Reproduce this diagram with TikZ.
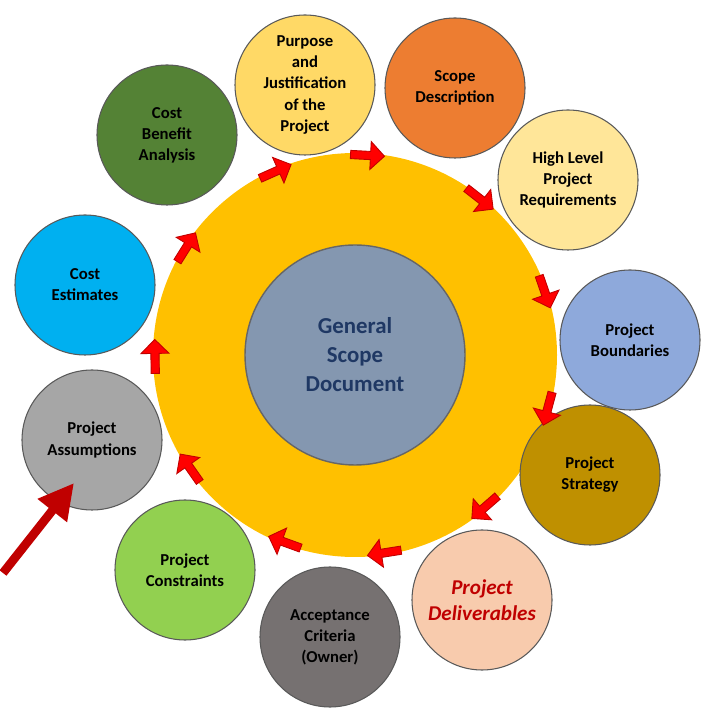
\documentclass[tikz,border=0pt]{standalone}
\usepackage{fontspec}
\setmainfont{Carlito}
\usepackage{tikz}
\usetikzlibrary{positioning,shapes.arrows,arrows.meta}

\definecolor{ringyellow}{HTML}{FFC000}
\definecolor{coreblue}{HTML}{8497B0}
\definecolor{navytext}{HTML}{1F3864}
\definecolor{darkred}{HTML}{C00000}

\tikzset{
  topic/.style={circle, draw=black!65, line width=0.6pt, minimum size=140*0.02cm,
    inner sep=0pt, align=center, font=\fontsize{9.5}{12}\selectfont\bfseries},
  flow/.style={single arrow, draw=darkred, fill=red, line width=0.5pt,
    minimum height=34*0.02cm, minimum width=28*0.02cm, single arrow head extend=3pt,
    single arrow head indent=0pt, inner sep=1pt}
}

\begin{document}
\begin{tikzpicture}[x=0.02cm, y=0.02cm]

\useasboundingbox (0,0) rectangle (700,710);

\coordinate (centre) at (355,355);
\fill[ringyellow] (centre) circle (202);
\node[circle, draw=black!60, line width=0.8pt, fill=coreblue, minimum size=220*0.02cm,
  align=center, text=navytext, font=\fontsize{13}{16.5}\selectfont\bfseries]
  (core) at (centre) {General\\Scope\\Document};

% topics around the ring
\node[topic, fill={rgb,255:red,255;green,217;blue,102}] (purpose) at (305,625) {Purpose\\and\\Justification\\of the\\Project};
\node[topic, fill={rgb,255:red,237;green,125;blue,49}] (scope) at (455,622) {Scope\\Description};
\node[topic, fill={rgb,255:red,255;green,230;blue,153}] (highlevel) at (568,530) {High Level\\Project\\Requirements};
\node[topic, fill={rgb,255:red,142;green,169;blue,219}] (bounds) at (630,370) {Project\\Boundaries};
\node[topic, fill={rgb,255:red,191;green,144;blue,0}] (strategy) at (590,235) {Project\\Strategy};
\node[topic, fill={rgb,255:red,248;green,203;blue,173}, text=darkred,
  font=\fontsize{12}{15}\selectfont\bfseries\itshape] (deliver) at (482,110) {Project\\Deliverables};
\node[topic, fill={rgb,255:red,118;green,113;blue,113}] (accept) at (330,73) {Acceptance\\Criteria\\(Owner)};
\node[topic, fill={rgb,255:red,146;green,208;blue,80}] (constr) at (185,140) {Project\\Constraints};
\node[topic, fill={rgb,255:red,166;green,166;blue,166}] (assume) at (92,270) {Project\\Assumptions};
\node[topic, fill={rgb,255:red,0;green,176;blue,240}] (estim) at (85,425) {Cost\\Estimates};
\node[topic, fill={rgb,255:red,84;green,130;blue,53}] (benefit) at (167,575) {Cost\\Benefit\\Analysis};

% arrows along the ring
\foreach \a in {87,52,19,-15,-49,-81,-110,-145,-179,148,114} {
  \pgfmathsetmacro\px{355+200*cos(\a)}
  \pgfmathsetmacro\py{355+200*sin(\a)}
  \node[flow, rotate=\a-90] at (\px,\py) {};
}

% pointer
\coordinate (tail) at (3,137);
\coordinate (tip) at (74,227);
\draw[darkred, line width=5pt, -{Triangle[length=20pt,width=20pt]}] (tail) -- (tip);

\end{tikzpicture}
\end{document}
